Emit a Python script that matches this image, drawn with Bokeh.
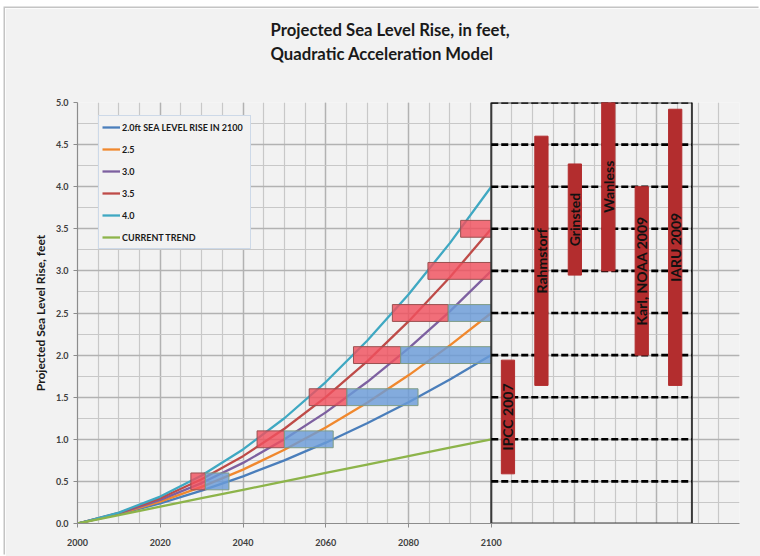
from math import pi
from bokeh.plotting import figure
from bokeh.models import FixedTicker, NumeralTickFormatter, Range1d, Title
from bokeh.core.properties import value
from bokeh.embed import file_html
from bokeh.resources import INLINE

# ---------------- data ----------------
years = [2000, 2010, 2020, 2030, 2040, 2050, 2060, 2070, 2080, 2090, 2100]
rise_2_0 = [0.0, 0.11, 0.24, 0.39, 0.56, 0.75, 0.96, 1.19, 1.44, 1.71, 2.0]
rise_2_5 = [0.0, 0.115, 0.26, 0.435, 0.64, 0.875, 1.14, 1.435, 1.76, 2.115, 2.5]
rise_3_0 = [0.0, 0.12, 0.28, 0.48, 0.72, 1.0, 1.32, 1.68, 2.08, 2.52, 3.0]
rise_3_5 = [0.0, 0.125, 0.30, 0.525, 0.80, 1.125, 1.50, 1.925, 2.40, 2.925, 3.5]
rise_4_0 = [0.0, 0.13, 0.32, 0.57, 0.88, 1.25, 1.68, 2.17, 2.72, 3.33, 4.0]
current_trend = [0.0, 0.1, 0.2, 0.3, 0.4, 0.5, 0.6, 0.7, 0.8, 0.9, 1.0]

series_labels = ["2.0ft SEA LEVEL RISE IN 2100", "2.5", "3.0", "3.5", "4.0", "CURRENT TREND"]
series_values = [rise_2_0, rise_2_5, rise_3_0, rise_3_5, rise_4_0, current_trend]

# years at which each level is reached (4.0 -> 3.0 scenario: red, 3.0 -> 2.0: blue)
red_levels = [0.5, 1.0, 1.5, 2.0, 2.5, 3.0, 3.5]
red_start = [2027.4, 2043.4, 2056.0, 2066.7, 2076.1, 2084.7, 2092.6]
red_end = [2030.9, 2050.0, 2065.1, 2078.1, 2089.6, 2100.0, 2100.0]
blue_levels = [0.5, 1.0, 1.5, 2.0, 2.5]
blue_start = [2030.9, 2050.0, 2065.1, 2078.1, 2089.6]
blue_end = [2036.6, 2061.8, 2082.3, 2100.0, 2100.0]

# published projections for 2100 (feet)
study_names = ["IPCC 2007", "Rahmstorf", "Grinsted", "Wanless", "Karl, NOAA 2009", "IARU 2009"]
study_low = [0.59, 1.64, 2.95, 3.0, 2.0, 1.64]
study_high = [1.94, 4.60, 4.27, 5.0, 4.0, 4.92]

x_ticks = [2000, 2020, 2040, 2060, 2080, 2100]
y_ticks = [0.0, 0.5, 1.0, 1.5, 2.0, 2.5, 3.0, 3.5, 4.0, 4.5, 5.0]

title_text = "Projected Sea Level Rise, in feet,\nQuadratic Acceleration Model"

# ---------------- styles ----------------
colors = ["#4A7EBB", "#F0882E", "#7D60A0", "#BE4B48", "#3FA8C2", "#8DB44A"]
BG = "#F2F2F2"
FONT = "Lato"

p = figure(width=755, height=548,
           x_range=Range1d(2000, 2160), y_range=Range1d(0, 5),
           output_backend="svg", toolbar_location=None,
           min_border_left=72, min_border_right=21,
           min_border_top=94, min_border_bottom=33,
           background_fill_color=BG, border_fill_color=BG,
           styles={"margin-left": "5px", "margin-top": "8px",
                   "box-shadow": "-1.5px -1.5px 0 #C4C4C4"})
p.outline_line_color = None
p.title.text = ""

# title: an invisible spacer next to the frame, then the two-line title
p.add_layout(Title(text=" ", text_font_size="2px", standoff=27), "above")
p.add_layout(Title(text=title_text, align="left", offset=193, vertical_align="top",
                   standoff=12, text_font=FONT, text_font_size="16.7px",
                   text_font_style="bold", text_color="#1A1A1A",
                   text_line_height=1.2), "above")

# grids
p.xgrid.ticker = FixedTicker(ticks=list(range(2000, 2161, 20)),
                             minor_ticks=list(range(2000, 2161, 5)))
p.ygrid.ticker = FixedTicker(ticks=[i * 0.5 for i in range(11)],
                             minor_ticks=[i * 0.25 for i in range(21)])
for g in (p.xgrid, p.ygrid):
    g.grid_line_color = "#B2B2B2"
    g.grid_line_width = 1.4
    g.minor_grid_line_color = "#C8C8C8"
    g.minor_grid_line_width = 1.2

# axes
p.xaxis.ticker = FixedTicker(ticks=x_ticks)
p.yaxis.ticker = FixedTicker(ticks=y_ticks)
p.yaxis.formatter = NumeralTickFormatter(format="0.0")
p.yaxis.axis_label = "Projected Sea Level Rise, feet"
p.yaxis.axis_label_text_font = FONT
p.yaxis.axis_label_text_font_size = "12px"
p.yaxis.axis_label_text_font_style = "bold"
p.yaxis.axis_label_text_color = "#1A1A1A"
p.yaxis.axis_label_standoff = 5
for ax in (p.xaxis, p.yaxis):
    ax.axis_line_color = "#8C8C8C"
    ax.axis_line_width = 1.2
    ax.major_tick_line_color = "#8C8C8C"
    ax.major_tick_out = 4
    ax.major_tick_in = 0
    ax.minor_tick_out = 0
    ax.minor_tick_in = 0
    ax.major_label_text_font = FONT
    ax.major_label_text_font_size = "9px"
    ax.major_label_text_font_style = "bold"
    ax.major_label_text_color = "#404040"
p.xaxis.major_label_standoff = 11
p.yaxis.major_label_standoff = 5

# scenario curves
for lab, vals, col in zip(series_labels, series_values, colors):
    p.line(years, vals, line_color=col, line_width=2.3, legend_label=lab)

# threshold boxes
half_h = 0.1
p.quad(left=red_start, right=red_end,
       bottom=[v - half_h for v in red_levels], top=[v + half_h for v in red_levels],
       fill_color="#F0505E", fill_alpha=0.82, line_color="#9A5050", line_width=1)
p.quad(left=blue_start, right=blue_end,
       bottom=[v - half_h for v in blue_levels], top=[v + half_h for v in blue_levels],
       fill_color="#6A9BD8", fill_alpha=0.82, line_color="#7F9C86", line_width=1)

# projections panel
panel_left, panel_right = 2100, 2148.5
p.quad(left=[panel_left], right=[panel_right], bottom=[0], top=[5],
       fill_color=None, line_color="#3A3A3A", line_width=2)
dash_levels = y_ticks[1:]
p.segment(x0=[panel_left] * len(dash_levels), x1=[panel_right] * len(dash_levels),
          y0=dash_levels, y1=dash_levels,
          line_color="black", line_width=2.6, line_dash="7 3")

slot = (panel_right - panel_left) / len(study_names)
study_x = [panel_left + slot * (i + 0.5) for i in range(len(study_names))]
p.vbar(x=study_x, width=3.2, bottom=study_low, top=study_high,
       fill_color="#B32D2E", line_color="#B32D2E")
p.text(x=study_x, y=[(a + b) / 2 for a, b in zip(study_low, study_high)],
       text=study_names, angle=pi / 2,
       text_align="center", text_baseline="middle",
       text_font=value(FONT), text_font_style="bold",
       text_font_size="14px", text_color="#111111")

# legend
lg = p.legend[0]
lg.location = (21, 274)
lg.background_fill_color = BG
lg.background_fill_alpha = 1
lg.border_line_color = "#A7C0DE"
lg.border_line_width = 1.5
lg.padding = 3
lg.spacing = 6
lg.margin = 0
lg.glyph_height = 16
lg.glyph_width = 18
lg.label_height = 16
lg.label_standoff = 2
lg.label_width = 125
lg.label_text_font = FONT
lg.label_text_font_size = "9px"
lg.label_text_font_style = "bold"
lg.label_text_color = "#1A1A1A"

open("out.html", "w").write(file_html(p, INLINE))
